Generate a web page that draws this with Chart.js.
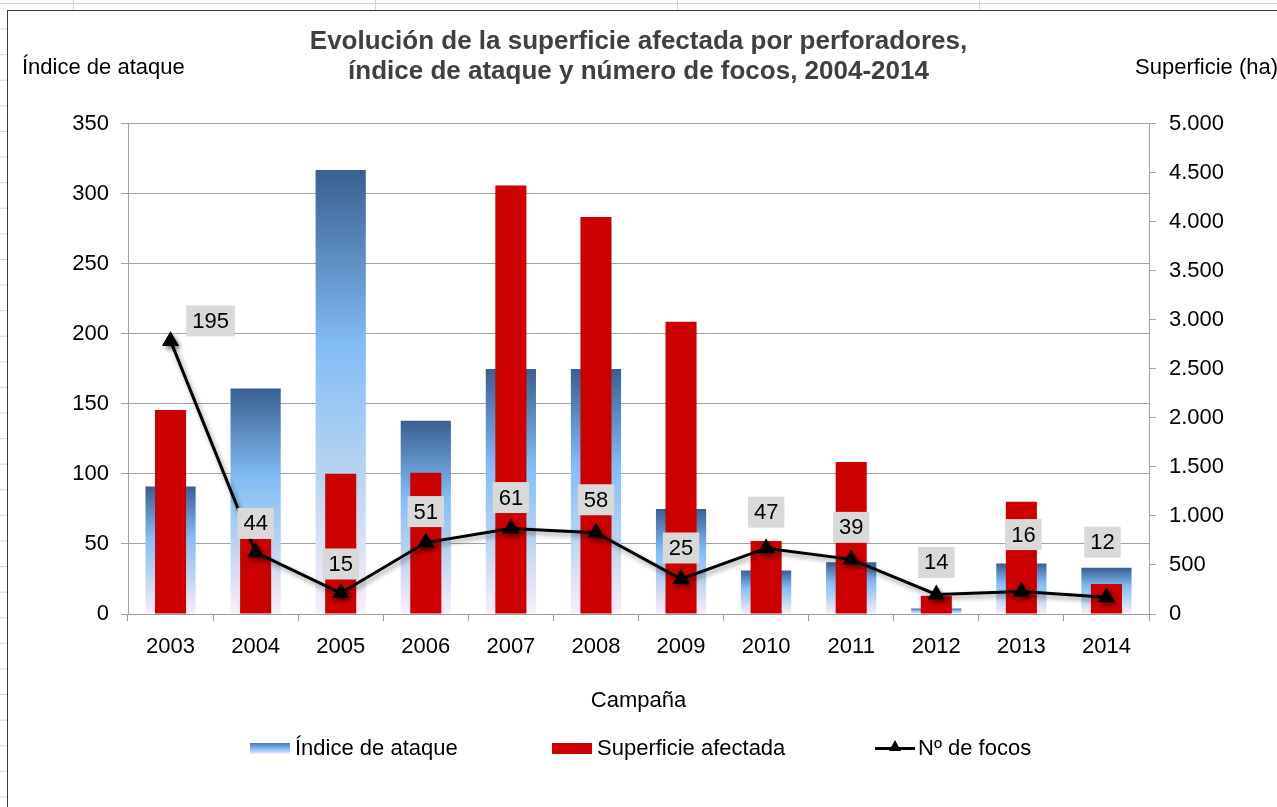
<!DOCTYPE html>
<html lang="es">
<head>
<meta charset="utf-8">
<title>Evolución de la superficie afectada por perforadores</title>
<script src="https://cdn.jsdelivr.net/npm/chart.js@4.4.1/dist/chart.umd.min.js"></script>
<style>
html, body { margin: 0; padding: 0; width: 1277px; height: 807px; overflow: hidden; }
body {
    background-color: #fff;
    background-image:
        linear-gradient(#d6d6d6 1px, transparent 1px),
        linear-gradient(90deg, #d6d6d6 1px, transparent 1px);
    background-size: 100% 25.6px, 302px 100%;
    background-position: 0 3px, 73px 0;
    font-family: 'Liberation Sans', Arial, sans-serif;
}
#marco { position: absolute; left: 7px; top: 10px; width: 1300px; height: 830px; background: #fff; border: 1.5px solid #3c3c3c; }
#grafico { position: absolute; left: 0; top: 0; }
.item { position: absolute; top: 735px; height: 26px; display: flex; align-items: center; font-size: 22px; color: #000; white-space: nowrap; }
.caja { display: inline-block; width: 40px; height: 11px; margin-right: 5px; }
.azul { background: linear-gradient(#4a78b2, #8fc2f5 60%, #eef0fa); }
.roja { background: #cc0000; }
.linea { display: inline-block; position: relative; width: 40px; height: 3px; background: #000; margin-right: 3px; }
.linea::after { content: ""; position: absolute; left: 14px; top: -7px; border-left: 6px solid transparent; border-right: 6px solid transparent; border-bottom: 11px solid #000; }
</style>
</head>
<body>
<div id="marco"></div>
<canvas id="grafico" width="1277" height="807"></canvas>

<div class="item" style="left:250px"><span class="caja azul"></span>Índice de ataque</div>
<div class="item" style="left:552px"><span class="caja roja"></span>Superficie afectada</div>
<div class="item" style="left:875px"><span class="linea"></span>Nº de focos</div>

<script>
// Datos
const campanas = ['2003', '2004', '2005', '2006', '2007', '2008', '2009', '2010', '2011', '2012', '2013', '2014'];
const indiceAtaque = [91, 161, 317, 138, 175, 175, 75, 31, 37, 4, 36, 33];
const superficie = [2080, 765, 1430, 1440, 4370, 4050, 2980, 745, 1550, 185, 1145, 305];
const focos = [195, 44, 15, 51, 61, 58, 25, 47, 39, 14, 16, 12];

const FUENTE = "'Liberation Sans', Arial, sans-serif";
Chart.defaults.font.family = FUENTE;
Chart.defaults.color = '#000';

function miles(v) {
    return String(v).replace(/\B(?=(\d{3})+(?!\d))/g, '.');
}

// degradado de cada barra azul, de arriba a abajo
function degradado(context) {
    const chart = context.chart;
    if (!chart.chartArea || context.type !== 'data') return '#7fb6ee';
    const escala = chart.scales.y;
    const arriba = escala.getPixelForValue(context.parsed.y);
    const abajo = escala.getPixelForValue(0);
    const g = chart.ctx.createLinearGradient(0, arriba, 0, abajo);
    g.addColorStop(0, '#395f90');
    g.addColorStop(0.4, '#83bdf6');
    g.addColorStop(0.7, '#bad5f0');
    g.addColorStop(1, '#fbeefa');
    return g;
}

const sombraLinea = {
    id: 'sombraLinea',
    beforeDatasetDraw(chart, args) {
        if (args.index !== 0) return;
        const c = chart.ctx;
        c.save();
        c.shadowColor = 'rgba(0,0,0,0.4)';
        c.shadowBlur = 5;
        c.shadowOffsetX = 2;
        c.shadowOffsetY = 3;
    },
    afterDatasetDraw(chart, args) {
        if (args.index !== 0) return;
        chart.ctx.restore();
    }
};

const etiquetasFocos = {
    id: 'etiquetasFocos',
    afterDatasetsDraw(chart, args, opts) {
        const meta = chart.getDatasetMeta(0);
        const c = chart.ctx;
        c.save();
        c.font = '22px ' + FUENTE;
        c.textAlign = 'center';
        c.textBaseline = 'middle';
        meta.data.forEach((pt, i) => {
            const txt = String(chart.data.datasets[0].data[i]);
            const x = pt.x + opts.dx[i];
            const y = pt.y + opts.dy[i];
            const w = c.measureText(txt).width + 12;
            const h = 31;
            c.fillStyle = '#d9d9d9';
            c.fillRect(x - w / 2, y - h / 2, w, h);
            c.fillStyle = '#000';
            c.fillText(txt, x, y + 1);
        });
        c.restore();
    }
};

const titulosEjes = {
    id: 'titulosEjes',
    afterDraw(chart) {
        const c = chart.ctx;
        c.save();
        c.font = '22px ' + FUENTE;
        c.fillStyle = '#000';
        c.textBaseline = 'middle';
        c.textAlign = 'left';
        c.fillText('Índice de ataque', 22, 68);
        c.fillText('Superficie (ha)', 1135, 68);
        c.restore();
    }
};

const ctx = document.getElementById('grafico').getContext('2d');

new Chart(ctx, {
    type: 'bar',
    data: {
        labels: campanas,
        datasets: [
            {
                type: 'line',
                label: 'Nº de focos',
                data: focos,
                yAxisID: 'y',
                order: 0,
                borderColor: '#000',
                backgroundColor: '#000',
                borderWidth: 3,
                tension: 0,
                pointStyle: 'triangle',
                pointRadius: 7,
                pointBackgroundColor: '#000',
                pointBorderColor: '#000'
            },
            {
                label: 'Superficie afectada',
                data: superficie,
                yAxisID: 'y1',
                order: 1,
                backgroundColor: '#cc0000',
                barPercentage: 0.365,
                categoryPercentage: 1,
                grouped: false
            },
            {
                label: 'Índice de ataque',
                data: indiceAtaque,
                yAxisID: 'y',
                order: 2,
                backgroundColor: degradado,
                barPercentage: 0.59,
                categoryPercentage: 1,
                grouped: false
            }
        ]
    },
    options: {
        responsive: false,
        animation: false,
        layout: { padding: { left: 0, right: 0, top: 0, bottom: 83 } },
        plugins: {
            legend: { display: false },
            tooltip: { enabled: false },
            title: {
                display: true,
                text: ['Evolución de la superficie afectada por perforadores,', 'índice de ataque y número de focos, 2004-2014'],
                color: '#404040',
                font: { size: 26, weight: 'bold', lineHeight: 1.15 },
                padding: { top: 27, bottom: 37 }
            },
            etiquetasFocos: {
                dx: [40, 0, 0, 0, 0, 0, 0, 0, 0, 0, 2, -4],
                dy: [-20, -29, -29, -31, -31, -33, -31, -36, -32, -32, -57, -55]
            }
        },
        scales: {
            x: {
                grid: { offset: true, drawOnChartArea: false, tickLength: 7, color: '#9d9d9d' },
                border: { color: '#9d9d9d' },
                ticks: { font: { size: 22 }, padding: 13, color: '#000' },
                title: { display: true, text: 'Campaña', font: { size: 22 }, color: '#000', padding: { bottom: 10 } },
                afterFit: s => { s.height = 110; }
            },
            y: {
                position: 'left',
                min: 0,
                max: 350,
                ticks: { stepSize: 50, font: { size: 22 }, padding: 12, color: '#000' },
                grid: { color: '#a3a3a3', tickLength: 7 },
                border: { color: '#a3a3a3' },
                afterFit: s => { s.width = 128; }
            },
            y1: {
                position: 'right',
                min: 0,
                max: 5000,
                ticks: { stepSize: 500, font: { size: 22 }, padding: 13, color: '#000', callback: v => miles(v) },
                grid: { drawOnChartArea: false, tickLength: 7, color: '#a3a3a3' },
                border: { color: '#a3a3a3' },
                afterFit: s => { s.width = 128; }
            }
        }
    },
    plugins: [sombraLinea, etiquetasFocos, titulosEjes]
});
</script>
</body>
</html>
